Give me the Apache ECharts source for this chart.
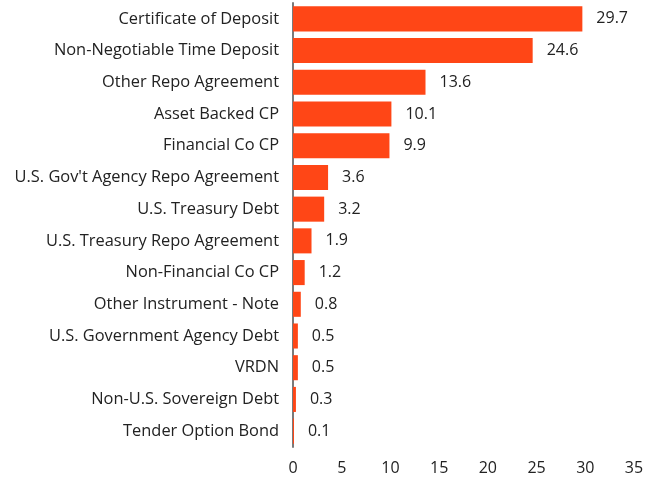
<!DOCTYPE html>
<html>
<head>
<meta charset="utf-8">
<script src="https://cdn.jsdelivr.net/npm/echarts@6/dist/echarts.min.js"></script>
<style>
  html, body { margin: 0; padding: 0; background: #fff; }
  #chart { width: 660px; height: 477px; }
</style>
</head>
<body>
<div id="chart"></div>
<script>
const categories = [
  'Certificate of Deposit',
  'Non-Negotiable Time Deposit',
  'Other Repo Agreement',
  'Asset Backed CP',
  'Financial Co CP',
  "U.S. Gov't Agency Repo Agreement",
  'U.S. Treasury Debt',
  'U.S. Treasury Repo Agreement',
  'Non-Financial Co CP',
  'Other Instrument - Note',
  'U.S. Government Agency Debt',
  'VRDN',
  'Non-U.S. Sovereign Debt',
  'Tender Option Bond'
];
const values = [29.7, 24.6, 13.6, 10.1, 9.9, 3.6, 3.2, 1.9, 1.2, 0.8, 0.5, 0.5, 0.3, 0.1];

const chart = echarts.init(document.getElementById('chart'));
chart.setOption({
  animation: false,
  textStyle: { fontFamily: 'Open Sans' },
  grid: { top: 3, left: 293, right: 26, bottom: 30 },
  xAxis: {
    type: 'value',
    min: 0,
    max: 35,
    interval: 5,
    axisLine: { show: false },
    axisTick: { show: false },
    splitLine: { show: false },
    axisLabel: { color: '#222', fontSize: 16, margin: 13 }
  },
  yAxis: {
    type: 'category',
    data: categories,
    inverse: true,
    axisLine: { show: true, lineStyle: { color: '#7a7a7a', width: 2 } },
    axisTick: { show: false },
    axisLabel: { color: '#222', fontSize: 16.4, margin: 14 }
  },
  series: [
    {
      type: 'bar',
      data: values,
      barCategoryGap: '21%',
      itemStyle: { color: '#ff4616' },
      label: {
        show: true,
        position: 'right',
        distance: 14,
        color: '#222',
        fontSize: 16
      }
    }
  ]
});
window.addEventListener('resize', () => chart.resize());
</script>
</body>
</html>
